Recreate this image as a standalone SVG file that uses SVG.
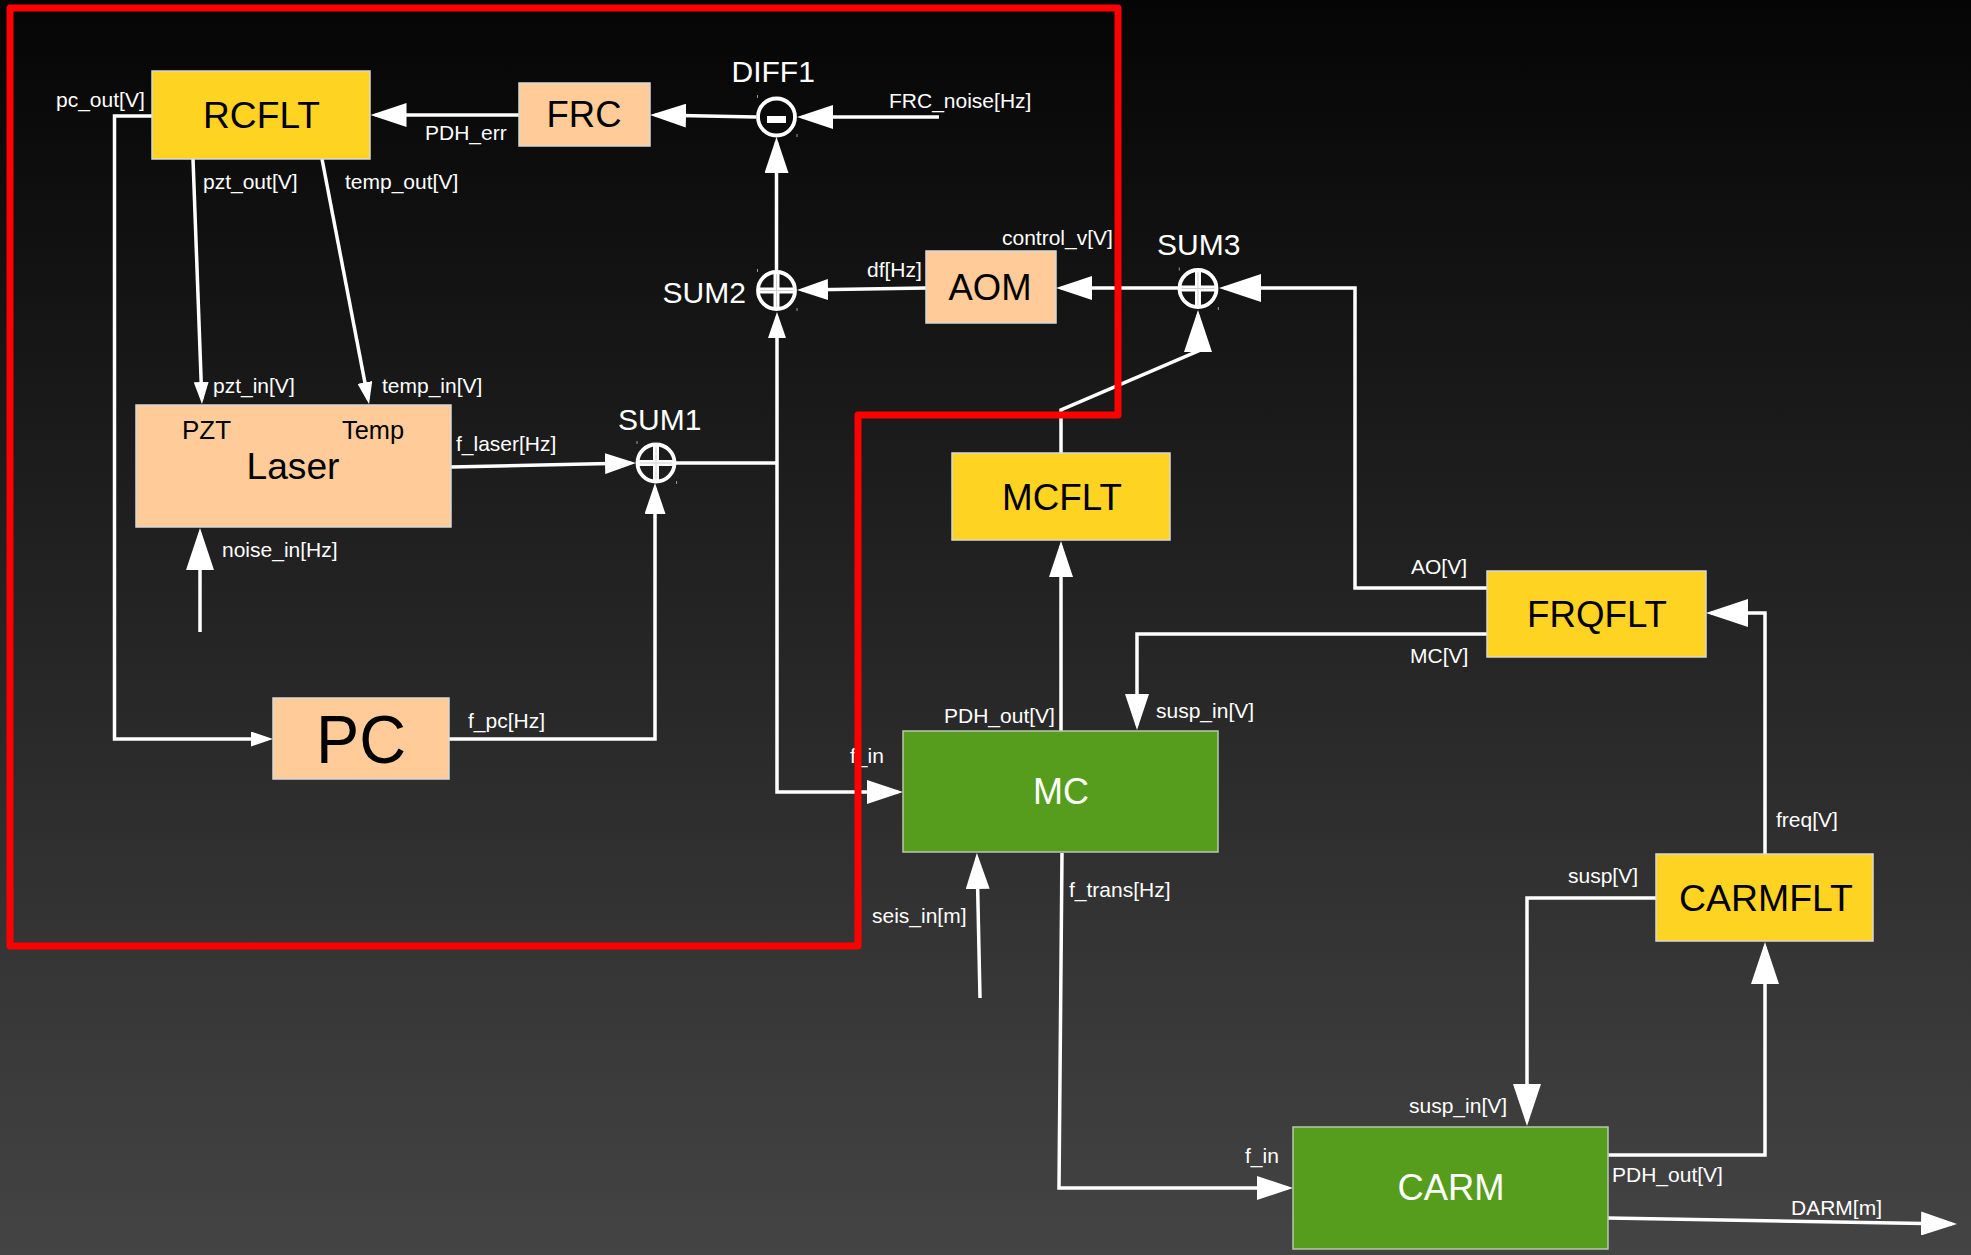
<svg xmlns="http://www.w3.org/2000/svg" width="1971" height="1255" viewBox="0 0 1971 1255">
<defs>
<linearGradient id="bg" x1="0" y1="0" x2="0" y2="1">
<stop offset="0" stop-color="#050505"/>
<stop offset="1" stop-color="#444444"/>
</linearGradient>
<marker id="aL" markerUnits="userSpaceOnUse" markerWidth="37" markerHeight="24" refX="31" refY="12" orient="auto"><path d="M0,0 L36,12 L0,24 Z" fill="#fff"/></marker>
<marker id="aXL" markerUnits="userSpaceOnUse" markerWidth="43" markerHeight="28" refX="37" refY="14" orient="auto"><path d="M0,0 L42,14 L0,28 Z" fill="#fff"/></marker>
<marker id="aM" markerUnits="userSpaceOnUse" markerWidth="32" markerHeight="21" refX="26" refY="10.5" orient="auto"><path d="M0,0 L31,10.5 L0,21 Z" fill="#fff"/></marker>
<marker id="aSM" markerUnits="userSpaceOnUse" markerWidth="27" markerHeight="18" refX="21" refY="9" orient="auto"><path d="M0,0 L26,9 L0,18 Z" fill="#fff"/></marker>
<marker id="aS" markerUnits="userSpaceOnUse" markerWidth="23" markerHeight="15" refX="17" refY="7.5" orient="auto"><path d="M0,0 L22,7.5 L0,15 Z" fill="#fff"/></marker>
</defs>
<style>
.lbl{font-family:"Liberation Sans",Arial,sans-serif;font-size:21px;fill:#fff}
.big{font-family:"Liberation Sans",Arial,sans-serif;font-size:30px;fill:#fff}
.nt{font-family:"Liberation Sans",Arial,sans-serif;font-size:37.5px;fill:#000;text-anchor:middle}
.ntw{font-family:"Liberation Sans",Arial,sans-serif;font-size:37.5px;fill:#fff;text-anchor:middle}
.yel{fill:#ffd322;stroke:#d8d8d8;stroke-width:1.5}
.pch{fill:#ffcc99;stroke:#d8d8d8;stroke-width:1.5}
.grn{fill:#579d1d;stroke:#b8c8b0;stroke-width:1.5}
.conn path{stroke:#fff;stroke-width:3.5;fill:none}
.ring{fill:none;stroke:#fff;stroke-width:3.8}
.cross{stroke:#fff;stroke-width:6}
.seam{stroke:#cfcfcf;stroke-width:1}
.tick{stroke:#9a9a9a;stroke-width:1}
</style>
<rect x="0" y="0" width="1971" height="1255" fill="url(#bg)"/>

<g id="connectors" class="conn">
<path d="M519,115 H375.5" marker-end="url(#aL)"/>
<path d="M756,117 L655,115" marker-end="url(#aL)"/>
<path d="M939,117 H802" marker-end="url(#aL)"/>
<path d="M776.5,270 V142" marker-end="url(#aL)"/>
<path d="M926,288 L802,290" marker-end="url(#aM)"/>
<path d="M1178,288 H1061" marker-end="url(#aL)"/>
<path d="M1487,588 H1355 V288 H1224" marker-end="url(#aXL)"/>
<path d="M1061,453 V410 L1198,351 V315" marker-end="url(#aXL)"/>
<path d="M1061,731 V546" marker-end="url(#aL)"/>
<path d="M1487,634 H1137 V725" marker-end="url(#aL)"/>
<path d="M1765,854 V613 H1711" marker-end="url(#aXL)"/>
<path d="M1656,898 H1527 V1121" marker-end="url(#aXL)"/>
<path d="M1608,1155 H1765 V947" marker-end="url(#aXL)"/>
<path d="M1062,853 L1059,1188 H1288" marker-end="url(#aL)"/>
<path d="M1608,1218 L1952,1224" marker-end="url(#aL)"/>
<path d="M980,998 L977,858" marker-end="url(#aL)"/>
<path d="M675,463 H777"/>
<path d="M777,463 V317" marker-end="url(#aSM)"/>
<path d="M777,463 V792 H898" marker-end="url(#aL)"/>
<path d="M451,467 L631,463" marker-end="url(#aM)"/>
<path d="M449,739 H655 V488" marker-end="url(#aM)"/>
<path d="M200,632 V533" marker-end="url(#aXL)"/>
<path d="M152,116 H114.5 V739 H268" marker-end="url(#aS)"/>
<path d="M193,159 L201.8,399" marker-end="url(#aS)"/>
<path d="M322,159 L368.1,399.1" marker-end="url(#aS)"/>
</g>

<g id="RCFLT"><rect class="yel" x="152" y="71" width="218" height="88"/><text class="nt" x="261.5" y="128" textLength="117" lengthAdjust="spacingAndGlyphs">RCFLT</text></g>
<g id="FRC"><rect class="pch" x="519" y="83" width="131" height="63"/><text class="nt" x="584" y="127" textLength="75" lengthAdjust="spacingAndGlyphs">FRC</text></g>
<g id="Laser"><rect class="pch" x="136" y="405" width="315" height="122"/>
<text class="nt" x="293" y="479" style="font-size:36px" textLength="93" lengthAdjust="spacingAndGlyphs">Laser</text>
<text x="182" y="439" style="font-family:'Liberation Sans',Arial,sans-serif;font-size:26.5px;fill:#000" textLength="49" lengthAdjust="spacingAndGlyphs">PZT</text>
<text x="342" y="439" style="font-family:'Liberation Sans',Arial,sans-serif;font-size:26px;fill:#000" textLength="62" lengthAdjust="spacingAndGlyphs">Temp</text></g>
<g id="PC"><rect class="pch" x="273" y="698" width="176" height="81"/><text class="nt" x="361" y="763" style="font-size:68px" textLength="90" lengthAdjust="spacingAndGlyphs">PC</text></g>
<g id="AOM"><rect class="pch" x="926" y="251" width="130" height="72"/><text class="nt" x="990" y="300" textLength="83" lengthAdjust="spacingAndGlyphs">AOM</text></g>
<g id="MCFLT"><rect class="yel" x="952" y="453" width="218" height="87"/><text class="nt" x="1062" y="510" textLength="120" lengthAdjust="spacingAndGlyphs">MCFLT</text></g>
<g id="MC"><rect class="grn" x="903" y="731" width="315" height="121"/><text class="ntw" x="1061" y="804" textLength="56" lengthAdjust="spacingAndGlyphs">MC</text></g>
<g id="FRQFLT"><rect class="yel" x="1487" y="571" width="219" height="86"/><text class="nt" x="1597" y="627" textLength="140" lengthAdjust="spacingAndGlyphs">FRQFLT</text></g>
<g id="CARMFLT"><rect class="yel" x="1656" y="854" width="217" height="87"/><text class="nt" x="1766" y="911" textLength="174" lengthAdjust="spacingAndGlyphs">CARMFLT</text></g>
<g id="CARM"><rect class="grn" x="1293" y="1127" width="315" height="122"/><text class="ntw" x="1451" y="1200" textLength="107" lengthAdjust="spacingAndGlyphs">CARM</text></g>

<g id="DIFF1">
<circle class="ring" cx="776.5" cy="117" r="18.5"/>
<rect x="767" y="116" width="19" height="7" fill="#fff"/>
<line class="tick" x1="757.5" y1="95" x2="757.5" y2="98"/><line class="tick" x1="797" y1="134" x2="797" y2="137"/>
<text class="big" x="731.5" y="82">DIFF1</text>
</g>
<g id="SUM2">
<circle class="ring" cx="776.5" cy="290.5" r="18.5"/>
<line class="cross" x1="758" y1="290.5" x2="795" y2="290.5"/><line class="cross" x1="776.5" y1="272" x2="776.5" y2="309"/>
<line class="seam" x1="760" y1="290.5" x2="793" y2="290.5"/><line class="seam" x1="776.5" y1="274" x2="776.5" y2="307"/>
<line class="tick" x1="757.5" y1="269" x2="757.5" y2="272"/><line class="tick" x1="797" y1="308" x2="797" y2="311"/>
<text class="big" x="662.5" y="303">SUM2</text>
</g>
<g id="SUM1">
<circle class="ring" cx="656" cy="463" r="18.5"/>
<line class="cross" x1="637.5" y1="463" x2="674.5" y2="463"/><line class="cross" x1="656" y1="444.5" x2="656" y2="481.5"/>
<line class="seam" x1="639.5" y1="463" x2="672.5" y2="463"/><line class="seam" x1="656" y1="446.5" x2="656" y2="479.5"/>
<line class="tick" x1="637" y1="441" x2="637" y2="444"/><line class="tick" x1="676.5" y1="481" x2="676.5" y2="484"/>
<text class="big" x="618" y="430">SUM1</text>
</g>
<g id="SUM3">
<circle class="ring" cx="1198" cy="288.5" r="18.5"/>
<line class="cross" x1="1179.5" y1="288.5" x2="1216.5" y2="288.5"/><line class="cross" x1="1198" y1="270" x2="1198" y2="307"/>
<line class="seam" x1="1181.5" y1="288.5" x2="1214.5" y2="288.5"/><line class="seam" x1="1198" y1="272" x2="1198" y2="305"/>
<line class="tick" x1="1179.3" y1="267.5" x2="1179.3" y2="270.5"/><line class="tick" x1="1218.3" y1="307" x2="1218.3" y2="310"/>
<text class="big" x="1157" y="255">SUM3</text>
</g>

<g id="labels">
<text class="lbl" x="56" y="107">pc_out[V]</text>
<text class="lbl" x="425" y="140">PDH_err</text>
<text class="lbl" x="203" y="189">pzt_out[V]</text>
<text class="lbl" x="345" y="189">temp_out[V]</text>
<text class="lbl" x="213" y="393">pzt_in[V]</text>
<text class="lbl" x="382" y="393">temp_in[V]</text>
<text class="lbl" x="456" y="451">f_laser[Hz]</text>
<text class="lbl" x="222" y="557">noise_in[Hz]</text>
<text class="lbl" x="468" y="728">f_pc[Hz]</text>
<text class="lbl" x="889" y="108">FRC_noise[Hz]</text>
<text class="lbl" x="867" y="277">df[Hz]</text>
<text class="lbl" x="1002" y="245">control_v[V]</text>
<text class="lbl" x="944" y="723">PDH_out[V]</text>
<text class="lbl" x="1156" y="718">susp_in[V]</text>
<text class="lbl" x="850" y="763">f_in</text>
<text class="lbl" x="1411" y="574">AO[V]</text>
<text class="lbl" x="1410" y="663">MC[V]</text>
<text class="lbl" x="1776" y="827">freq[V]</text>
<text class="lbl" x="1568" y="883">susp[V]</text>
<text class="lbl" x="1069" y="897">f_trans[Hz]</text>
<text class="lbl" x="872" y="923">seis_in[m]</text>
<text class="lbl" x="1409" y="1113">susp_in[V]</text>
<text class="lbl" x="1245" y="1163">f_in</text>
<text class="lbl" x="1612" y="1182">PDH_out[V]</text>
<text class="lbl" x="1791" y="1215">DARM[m]</text>
</g>

<path id="highlight" d="M10,8 H1118 V415 H858 V946 H10 Z" fill="none" stroke="#ff0000" stroke-width="7" stroke-linejoin="round"/>
</svg>
